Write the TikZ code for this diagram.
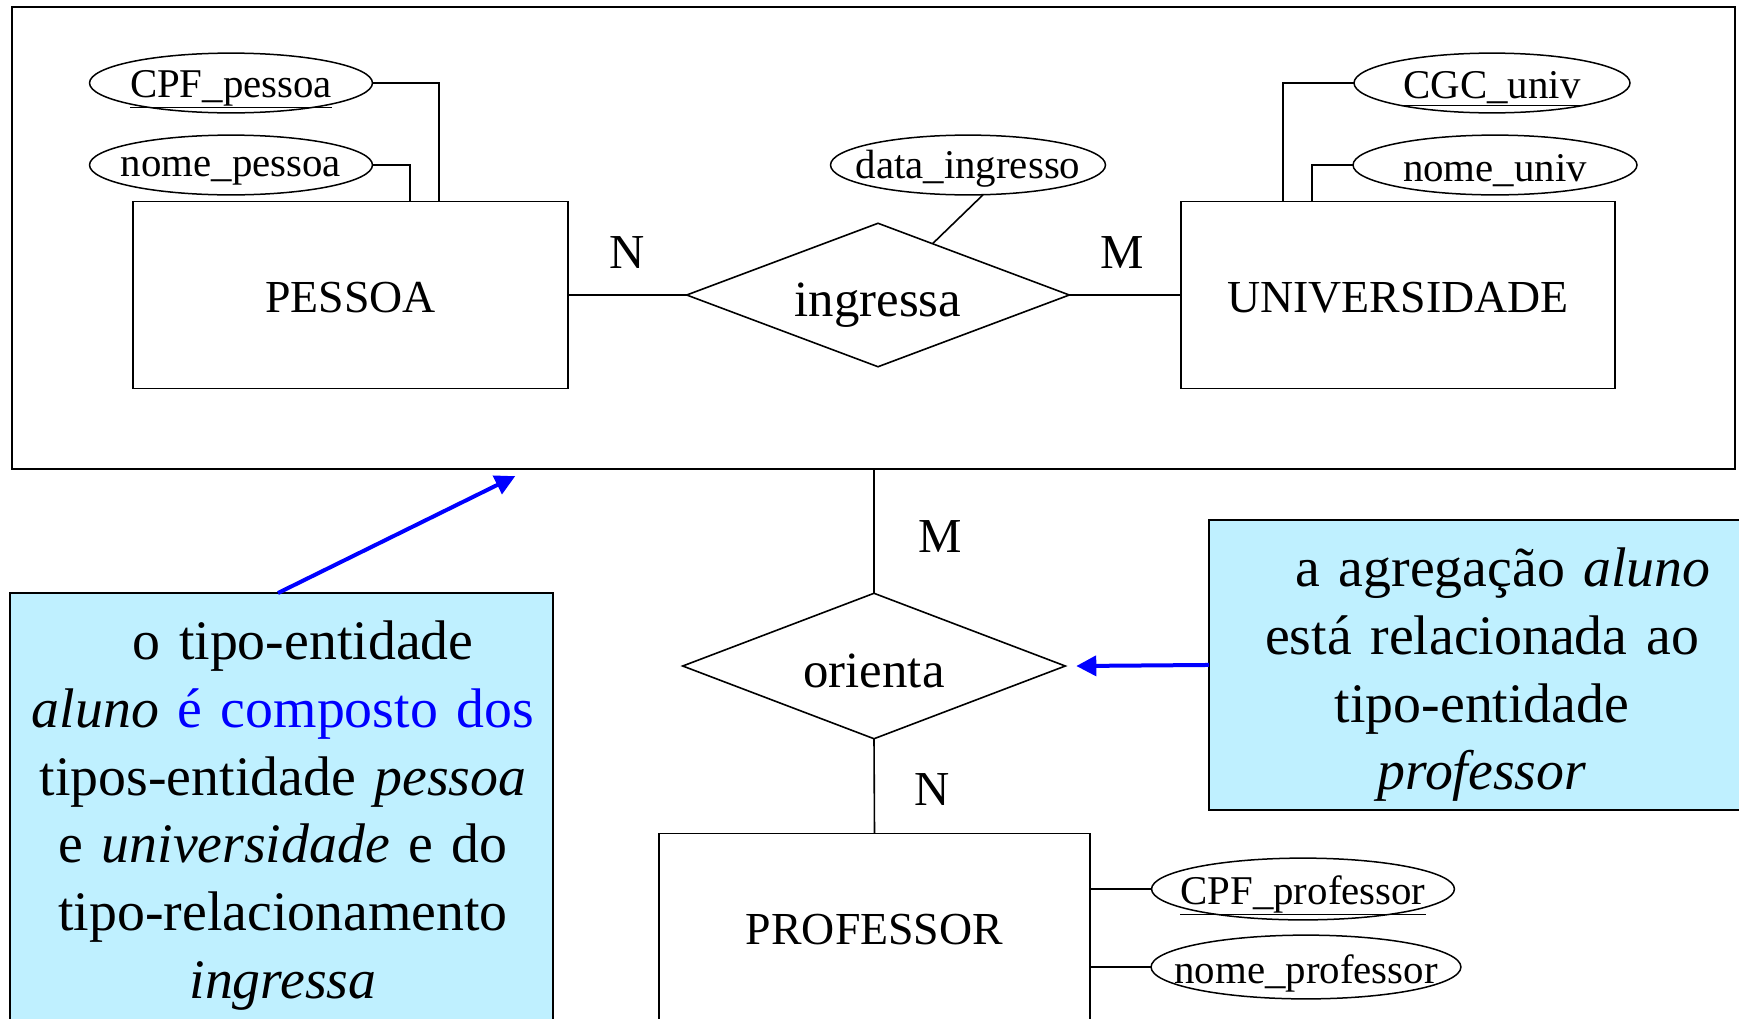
\documentclass[tikz,border=0pt]{standalone}
\usepackage{fontspec}
\setmainfont{Liberation Serif}
\usetikzlibrary{shapes.geometric,arrows.meta,calc}
\definecolor{notefill}{RGB}{191,240,255}
\definecolor{arrowblue}{RGB}{0,0,255}
\begin{document}
\begin{tikzpicture}[x=1bp,y=-1bp,
  every node/.style={inner sep=0pt, outer sep=0pt},
  line/.style={draw=black, line width=1.6bp},
  aggbox/.style={draw=black, line width=1.8bp, rectangle},
  entity/.style={draw=black, line width=1.6bp, rectangle},
  entfont/.style={font=\fontsize{46}{50}\selectfont, inner sep=0pt, yshift=-3bp},
  rel/.style={draw=black, line width=1.6bp, diamond},
  relfont/.style={font=\fontsize{51}{56}\selectfont, inner sep=0pt},
  attr/.style={draw=black, line width=1.5bp, ellipse},
  attrfont/.style={font=\fontsize{41}{46}\selectfont, inner sep=0pt, yshift=-6bp},
  card/.style={font=\fontsize{49}{54}\selectfont},
  notebox/.style={draw=black, line width=1.6bp, fill=notefill, rectangle},
  notetext/.style={align=center, font=\fontsize{56}{68}\selectfont},
  bluearrow/.style={draw=arrowblue, line width=4bp, -{Triangle[length=20bp,width=20bp]}}
]
\useasboundingbox (0,0) rectangle (1739,1018);
\clip (0,0) rectangle (1739,1018);

% aggregation box
\node[aggbox, minimum width=1729, minimum height=464] (agg) at (873.5,238) {};

% entities
\node[entity, minimum width=437, minimum height=188, label={[entfont]center:PESSOA}] (pessoa) at (350.5,295) {};
\node[entity, minimum width=436, minimum height=188, label={[entfont]center:UNIVERSIDADE}] (univ) at (1398,295) {};
\node[entity, minimum width=433, minimum height=192, label={[entfont, yshift=2bp]center:PROFESSOR}] (prof) at (874.5,929) {};

% relationships
\node[rel, minimum width=384, minimum height=144, label={[relfont, yshift=-10bp]center:ingressa}] (ing) at (878,295) {};
\node[rel, minimum width=384, minimum height=146, label={[relfont, yshift=-5bp]center:orienta}] (orienta) at (874,666) {};

% attributes
\node[attr, minimum width=284, minimum height=60, label={[attrfont]center:\underline{CPF\_pessoa}}] (cpfp) at (231,83) {};
\node[attr, minimum width=284, minimum height=60, label={[attrfont]center:nome\_pessoa}] (nomep) at (231,165) {};
\node[attr, minimum width=276, minimum height=60, label={[attrfont, yshift=2bp]center:data\_ingresso}] (dataing) at (968,165) {};
\node[attr, minimum width=277, minimum height=60, label={[attrfont]center:\underline{CGC\_univ}}] (cgc) at (1492,83) {};
\node[attr, minimum width=285, minimum height=60, label={[attrfont]center:nome\_univ}] (nomeu) at (1495,165) {};
\node[attr, minimum width=304, minimum height=62, label={[attrfont]center:\underline{CPF\_professor}}] (cpfprof) at (1303,889) {};
\node[attr, minimum width=311, minimum height=64, label={[attrfont]center:nome\_professor}] (nomeprof) at (1306,967) {};

% cardinalities
\node[card] (cn1) at (627,253) {N};
\node[card] (cm1) at (1122,253) {M};
\node[card] (cm2) at (940,537) {M};
\node[card] (cn2) at (932,790) {N};

% connectors
\draw[line] (pessoa.east) -- (ing.west);
\draw[line] (ing.east) -- (univ.west);
\draw[line] (cpfp.east) -| ($(pessoa.north west)+(306,0)$);
\draw[line] (nomep.east) -| ($(pessoa.north west)+(277,0)$);
\draw[line] (cgc.west) -| ($(univ.north west)+(102,0)$);
\draw[line] (nomeu.west) -| ($(univ.north west)+(131,0)$);
\draw[line] (dataing.-63) -- ($(ing.north)!0.285!(ing.east)$);
\draw[line] (agg.south -| orienta.north) -- (orienta.north);
\draw[line] (orienta.south) -- (prof.north);
\draw[line] (prof.east |- cpfprof.west) -- (cpfprof.west);
\draw[line] (prof.east |- nomeprof.west) -- (nomeprof.west);

% notes
\node[notebox, anchor=north west, minimum width=545, minimum height=500] (lnote) at (10,593) {};
\node[notetext, text width=530, anchor=north] (ltext) at (283,621)
  {\hspace*{40bp}o tipo-entidade\\
   \textit{aluno} \textcolor{arrowblue}{é composto dos}\\
   tipos-entidade \textit{pessoa}\\
   e \textit{universidade} e do\\
   tipo-relacionamento\\
   \textit{ingressa}};
\node[notebox, anchor=north west, minimum width=545, minimum height=291] (rnote) at (1209,520) {};
\node[notetext, text width=520, anchor=north] (rtext) at (1482,548)
  {\hspace*{42bp}a agregação \textit{aluno}\\
   está relacionada ao\\
   tipo-entidade\\
   \textit{professor}};

% blue arrows
\coordinate (ltip) at ($(agg.south west)+(503,7)$);
\draw[bluearrow] ($(lnote.north west)+(268,0)$) -- (ltip);
\draw[bluearrow] (rnote.west) -- ($(orienta.east)+(11,0)$);
\end{tikzpicture}
\end{document}
